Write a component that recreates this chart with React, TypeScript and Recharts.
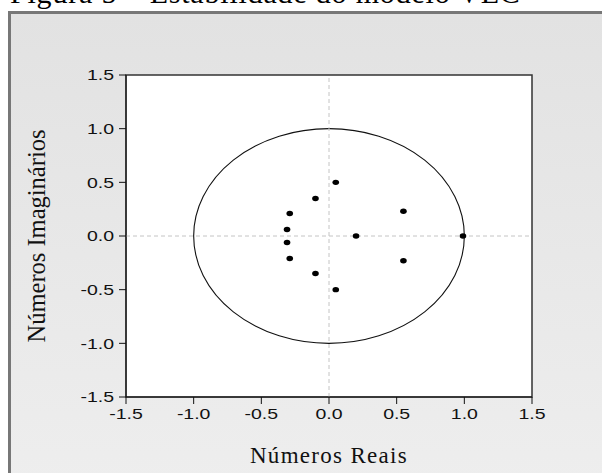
import {
  CartesianGrid,
  ReferenceArea,
  ReferenceLine,
  Scatter,
  ScatterChart,
  XAxis,
  YAxis,
} from "recharts";

// Raízes inversas do polinômio característico
const realParts = [0.05, -0.1, -0.29, -0.31, -0.31, -0.29, -0.1, 0.05, 0.2, 0.55, 0.55, 0.99];
const imagParts = [0.5, 0.35, 0.21, 0.06, -0.06, -0.21, -0.35, -0.5, 0.0, 0.23, -0.23, 0.0];

const ticks = [-1.5, -1.0, -0.5, 0.0, 0.5, 1.0, 1.5];

const TITLE = "Figura 5 – Estabilidade do modelo VEC";
const X_LABEL = "Números Reais";
const Y_LABEL = "Números Imaginários";

const roots = realParts.map((re, i) => ({ re, im: imagParts[i] }));

const SERIF = "'Liberation Serif', 'Times New Roman', serif";
const SANS = "'Liberation Sans', Arial, sans-serif";

// the source picture is stretched sideways, so tick text is widened too
const TICK_STRETCH = 1.3;

function XTick(props: any) {
  const { x, y, payload } = props;
  return (
    <text
      transform={`translate(${x},${y}) scale(${TICK_STRETCH},1)`}
      textAnchor="middle"
      dy="0.71em"
      fontFamily={SANS}
      fontSize={15}
      fill="#111"
    >
      {Number(payload.value).toFixed(1)}
    </text>
  );
}

function YTick(props: any) {
  const { x, y, payload } = props;
  return (
    <text
      transform={`translate(${x},${y}) scale(${TICK_STRETCH},1)`}
      textAnchor="end"
      dy="0.36em"
      fontFamily={SANS}
      fontSize={15}
      fill="#111"
    >
      {Number(payload.value).toFixed(1)}
    </text>
  );
}

// unit circle drawn inside the area spanned by (-1,-1)..(1,1)
function UnitCircle(props: any) {
  const { x, y, width, height } = props;
  return (
    <ellipse
      cx={x + width / 2}
      cy={y + height / 2}
      rx={width / 2}
      ry={height / 2}
      fill="none"
      stroke="#111"
      strokeWidth={1.1}
    />
  );
}

function RootDot(props: any) {
  const { cx, cy } = props;
  return <ellipse cx={cx} cy={cy} rx={3.3} ry={2.7} fill="#000" />;
}

export default function App() {
  return (
    <div
      style={{
        position: "fixed",
        left: 0,
        top: 0,
        width: 602,
        height: 473,
        overflow: "hidden",
        background: "#fff",
      }}
    >
      <div
        style={{
          position: "absolute",
          left: 10,
          top: -24,
          fontFamily: SERIF,
          fontSize: 30,
          letterSpacing: 0.8,
          whiteSpace: "nowrap",
          color: "#000",
        }}
      >
        {TITLE}
      </div>
      <div
        style={{
          position: "absolute",
          left: 8,
          top: 11,
          width: 620,
          height: 480,
          borderLeft: "3px solid #777",
          borderTop: "3px solid #777",
          background: "linear-gradient(#e2e2e2, #eeeeee)",
        }}
      />
      <div style={{ position: "absolute", left: 0, top: 0 }}>
        <ScatterChart
          width={602}
          height={473}
          margin={{ top: 75, right: 70, bottom: 46, left: 66 }}
        >
          <CartesianGrid fill="#fff" horizontal={false} vertical={false} />
          <XAxis
            type="number"
            dataKey="re"
            domain={[-1.5, 1.5]}
            ticks={ticks}
            height={30}
            tickSize={7}
            tickMargin={4}
            stroke="#111"
            tick={XTick}
            label={{
              value: X_LABEL,
              position: "bottom",
              offset: 20,
              style: { fontFamily: SERIF, fontSize: 23, letterSpacing: 1.3, fill: "#111" },
            }}
          />
          <YAxis
            type="number"
            dataKey="im"
            domain={[-1.5, 1.5]}
            ticks={ticks}
            width={60}
            tickSize={7}
            tickMargin={5}
            stroke="#111"
            tick={YTick}
            label={{
              value: Y_LABEL,
              angle: -90,
              position: "insideLeft",
              offset: -30,
              style: { fontFamily: SERIF, fontSize: 24.5, fill: "#111", textAnchor: "middle" },
            }}
          />
          <ReferenceLine x={0} stroke="#c4c4c4" strokeDasharray="4 3" />
          <ReferenceLine y={0} stroke="#c4c4c4" strokeDasharray="4 3" />
          <ReferenceArea
            x1={-1.5}
            x2={1.5}
            y1={-1.5}
            y2={1.5}
            fill="none"
            stroke="#333"
            strokeWidth={1.5}
          />
          <ReferenceArea x1={-1} x2={1} y1={-1} y2={1} shape={UnitCircle} />
          <Scatter data={roots} shape={RootDot} isAnimationActive={false} />
        </ScatterChart>
      </div>
    </div>
  );
}
